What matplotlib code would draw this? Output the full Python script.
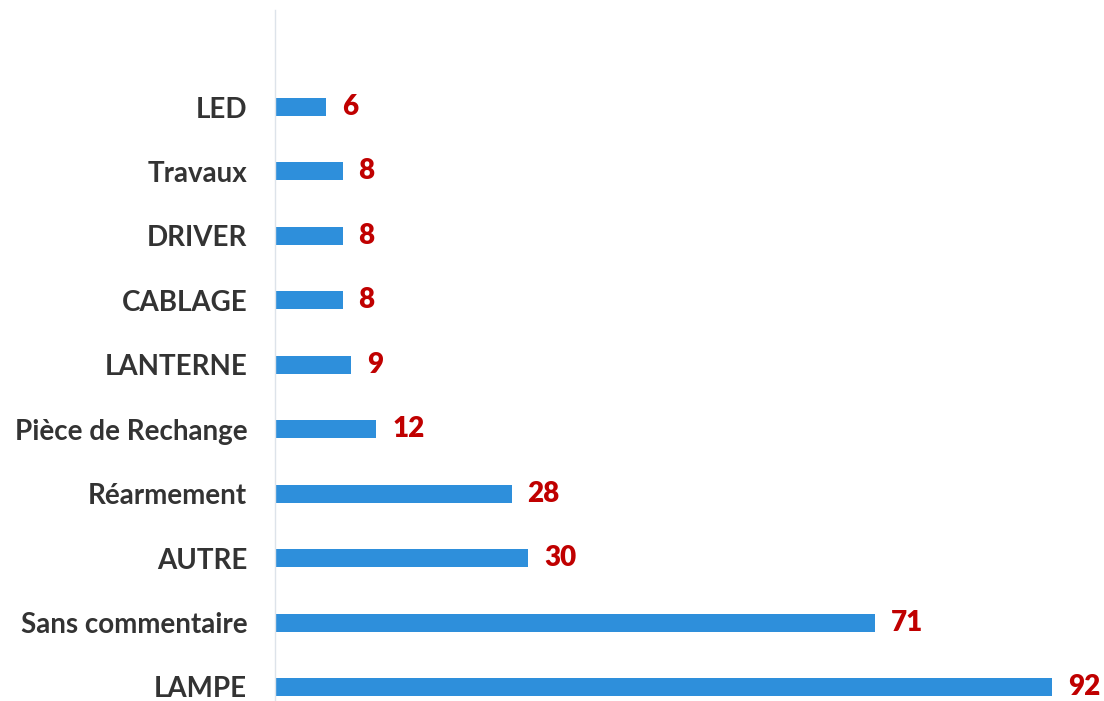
import matplotlib
matplotlib.use("Agg")
import matplotlib.pyplot as plt

categories = ["LAMPE", "Sans commentaire", "AUTRE", "Réarmement", "Pièce de Rechange",
              "LANTERNE", "CABLAGE", "DRIVER", "Travaux", "LED"]
values = [92, 71, 30, 28, 12, 9, 8, 8, 8, 6]

plt.rcParams['font.family'] = ['Lato', 'DejaVu Sans']

fig = plt.figure(figsize=(11.04, 7.01), dpi=100)
ax = fig.add_axes([275/1104, 0, (1100-275)/1104, (701-10)/701])

pos = list(range(len(categories)))
ax.barh(pos, values, height=0.28, color='#2E8FDB', edgecolor='none')
ax.set_xlim(0, (1100-275)/8.45)
ax.set_ylim(-14/64.44, 9 + 97/64.44)
ax.set_yticks(pos)
ax.set_yticklabels(categories, fontsize=20, color='#333333', fontweight='bold')
ax.tick_params(axis='y', length=0, pad=20)
ax.set_xticks([])
for s in ['top', 'right', 'bottom']:
    ax.spines[s].set_visible(False)
ax.spines['left'].set_color('#dde3ea')
ax.spines['left'].set_linewidth(1)

for p, v in zip(pos, values):
    ax.annotate(str(v), (v, p), xytext=(16, 0), textcoords='offset pixels',
                va='center', ha='left', fontsize=20, fontweight='heavy', color='#C00000')

fig.savefig("out.png", dpi=100)
